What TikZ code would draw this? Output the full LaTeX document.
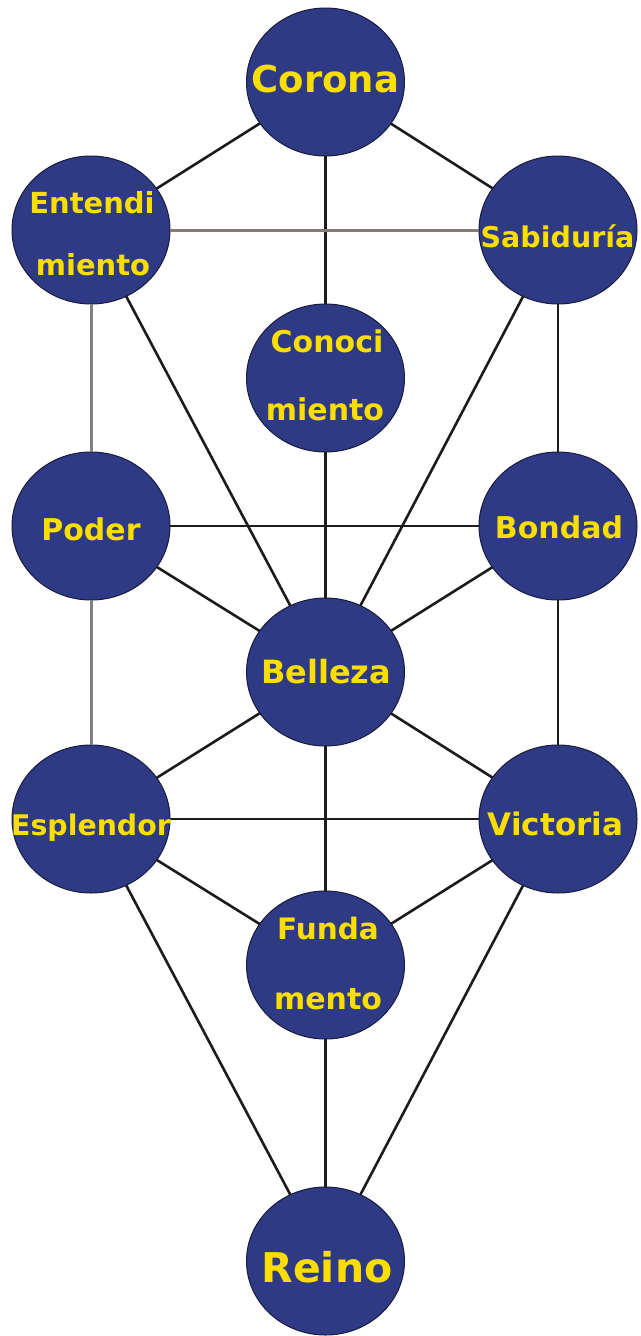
\documentclass[tikz,border=0pt]{standalone}
\usepackage{fontspec}
\usetikzlibrary{shapes.geometric}
\newfontfamily\lblfont{DejaVu Sans}[BoldFont={DejaVu Sans Bold}]
\definecolor{sefiraBlue}{RGB}{46,58,132}
\definecolor{sefiraEdge}{RGB}{25,28,60}
\definecolor{lblYellow}{RGB}{250,222,0}
\definecolor{lineDark}{RGB}{28,28,28}
\definecolor{lineGray}{RGB}{128,128,128}
\definecolor{lineGrayRed}{RGB}{138,120,120}
\tikzset{
  sefira/.style={ellipse, fill=sefiraBlue, draw=sefiraEdge, line width=1pt,
    minimum width=158pt, minimum height=148pt, inner sep=0pt, outer sep=0pt},
  lbl/.style={text=lblYellow, anchor=base, inner sep=0pt},
  path/.style={draw=lineDark, line width=2.6pt},
  grayPath/.style={draw=lineGray, line width=3pt},
  grayRedPath/.style={draw=lineGrayRed, line width=3pt}
}
\newcommand{\lf}[1]{\lblfont\bfseries\fontsize{#1}{#1}\selectfont}
\begin{document}
\begin{tikzpicture}[x=1pt,y=-1pt]
\useasboundingbox[fill=white] (0,0) rectangle (640,1336);
% sefirot
\node[sefira] (corona) at (325.5,82) {};
\node[sefira] (entend) at (91,230) {};
\node[sefira] (sabid) at (558,230) {};
\node[sefira] (conoc) at (325.5,378) {};
\node[sefira] (poder) at (91,526) {};
\node[sefira] (bondad) at (558,526) {};
\node[sefira] (belleza) at (325.5,672) {};
\node[sefira] (esplen) at (91,819) {};
\node[sefira] (victoria) at (558,819) {};
\node[sefira] (fundam) at (325.5,965) {};
\node[sefira] (reino) at (325.5,1261) {};
% connectors
\draw[path] (corona) -- (entend);
\draw[path] (corona) -- (sabid);
\draw[path] (corona) -- (conoc);
\draw[path] (conoc) -- (belleza);
\draw[grayRedPath] (entend) -- (sabid);
\draw[grayPath] (entend) -- (poder);
\draw[path] (entend) -- (belleza);
\draw[path] (sabid) -- (belleza);
\draw[path] (sabid) -- (bondad);
\draw[path] (poder) -- (bondad);
\draw[path] (poder) -- (belleza);
\draw[path] (bondad) -- (belleza);
\draw[grayPath] (poder) -- (esplen);
\draw[path] (bondad) -- (victoria);
\draw[path] (belleza) -- (esplen);
\draw[path] (belleza) -- (victoria);
\draw[path] (belleza) -- (fundam);
\draw[path] (esplen) -- (victoria);
\draw[path] (esplen) -- (fundam);
\draw[path] (victoria) -- (fundam);
\draw[path] (esplen) -- (reino);
\draw[path] (victoria) -- (reino);
\draw[path] (fundam) -- (reino);
% labels
\node[lbl, font=\lf{37}] (coronaL) at (325.5,92) {Corona};
\node[lbl, font=\lf{29}] (entendL1) at (92,213) {Entendi};
\node[lbl, font=\lf{29}] (entendL2) at (93,275) {miento};
\node[lbl, font=\lf{28.5}] (sabidL) at (557.5,247) {Sabiduría};
\node[lbl, font=\lf{30}] (conocL1) at (327,352) {Conoci};
\node[lbl, font=\lf{30}] (conocL2) at (325,420) {miento};
\node[lbl, font=\lf{30}] (poderL) at (91,540) {Poder};
\node[lbl, font=\lf{30}] (bondadL) at (559,538) {Bondad};
\node[lbl, font=\lf{32}] (bellezaL) at (326,683) {Belleza};
\node[lbl, font=\lf{28.4}] (esplenL) at (91,835) {Esplendor};
\node[lbl, font=\lf{31}] (victoriaL) at (555.5,835) {Victoria};
\node[lbl, font=\lf{29.5}] (fundamL1) at (328,939) {Funda};
\node[lbl, font=\lf{30}] (fundamL2) at (328,1009) {mento};
\node[lbl, font=\lf{41}] (reinoL) at (327,1282) {Reino};
\end{tikzpicture}
\end{document}
